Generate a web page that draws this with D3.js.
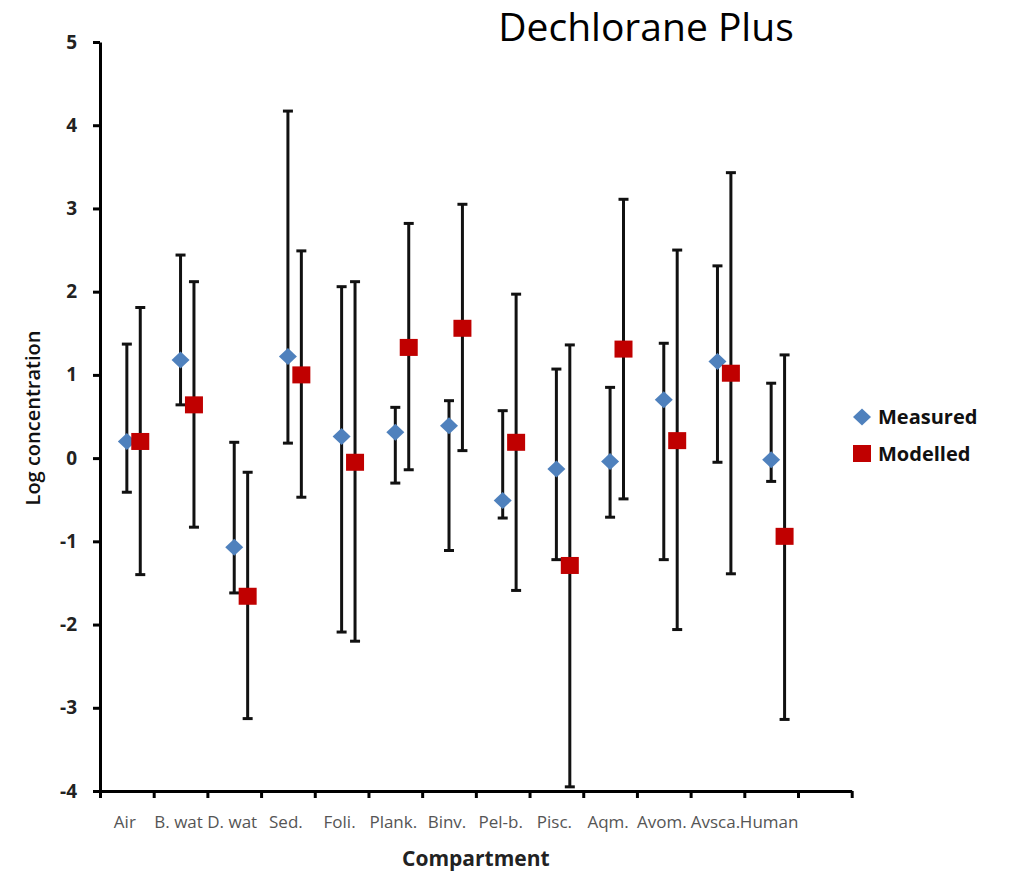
<!DOCTYPE html>
<html>
<head>
<meta charset="utf-8">
<script src="https://cdn.jsdelivr.net/npm/d3@7"></script>
<style>
  body { margin: 0; background: #fff; }
  text { font-family: "Open Sans", sans-serif; }
</style>
</head>
<body>
<svg id="chart" width="1015" height="872"></svg>
<script>
// compartments along the x axis (one empty slot after the last one)
var categories = ['Air', 'B. wat', 'D. wat', 'Sed.', 'Foli.', 'Plank.', 'Binv.',
                  'Pel-b.', 'Pisc.', 'Aqm.', 'Avom.', 'Avsca.', 'Human'];
var measured     = [0.20, 1.18, -1.07, 1.22, 0.26, 0.31, 0.39, -0.51, -0.13, -0.04, 0.70, 1.16, -0.02];
var measuredHigh = [1.37, 2.44, 0.19, 4.17, 2.06, 0.61, 0.69, 0.57, 1.07, 0.85, 1.38, 2.31, 0.90];
var measuredLow  = [-0.41, 0.64, -1.62, 0.18, -2.09, -0.30, -1.11, -0.72, -1.22, -0.71, -1.22, -0.05, -0.28];
var modelled     = [0.20, 0.64, -1.66, 1.00, -0.05, 1.33, 1.56, 0.19, -1.29, 1.31, 0.21, 1.02, -0.94];
var modelledHigh = [1.81, 2.12, -0.17, 2.49, 2.12, 2.82, 3.05, 1.97, 1.36, 3.11, 2.50, 3.43, 1.24];
var modelledLow  = [-1.40, -0.83, -3.13, -0.47, -2.20, -0.14, 0.09, -1.59, -3.95, -0.49, -2.06, -1.39, -3.14];
var yTicks = [-4, -3, -2, -1, 0, 1, 2, 3, 4, 5];
var slots = 14;

var svg = d3.select('#chart');

var x = d3.scaleLinear().domain([0, slots]).range([100, 851.7]);
var y = d3.scaleLinear().domain([-4, 5]).range([791, 42]);

// y axis
var yAxis = svg.append('g')
    .attr('transform', 'translate(' + x(0) + ',0)')
    .call(d3.axisLeft(y).tickValues(yTicks).tickSize(7).tickSizeOuter(0)
        .tickPadding(16).tickFormat(d => String(d)));
yAxis.select('.domain').attr('stroke', '#000').attr('stroke-width', 3);
yAxis.selectAll('.tick line').attr('stroke', '#000').attr('stroke-width', 3);
yAxis.selectAll('.tick text')
    .attr('font-family', '"Open Sans", sans-serif')
    .attr('font-size', 19).attr('font-weight', 700).attr('fill', '#222');

// x axis, ticks between compartments
var xAxis = svg.append('g')
    .attr('transform', 'translate(0,' + y(-4) + ')')
    .call(d3.axisBottom(x).tickValues(d3.range(slots + 1)).tickSize(7).tickSizeOuter(0).tickFormat(''));
xAxis.select('.domain').attr('stroke', '#000').attr('stroke-width', 3);
xAxis.selectAll('.tick line').attr('stroke', '#000').attr('stroke-width', 3);

svg.append('g').selectAll('text').data(categories).enter().append('text')
    .attr('x', (d, i) => x(i + 0.5) - 2)
    .attr('y', y(-4) + 37)
    .attr('text-anchor', 'middle')
    .attr('font-size', 17)
    .attr('fill', '#555')
    .text(d => d);

// error bars
function errorBars(low, high, offset) {
    var g = svg.append('g').attr('stroke', '#111').attr('stroke-width', 3);
    categories.forEach(function(c, i) {
        var cx = x(i + offset);
        g.append('line').attr('x1', cx).attr('x2', cx)
            .attr('y1', y(low[i])).attr('y2', y(high[i]));
        [low[i], high[i]].forEach(function(v) {
            g.append('line').attr('x1', cx - 5).attr('x2', cx + 5)
                .attr('y1', y(v)).attr('y2', y(v));
        });
    });
}
errorBars(measuredLow, measuredHigh, 0.5);
errorBars(modelledLow, modelledHigh, 0.75);

var diamond = 'M0,-8.5L9,0L0,8.5L-9,0Z';

svg.append('g').selectAll('path').data(measured).enter().append('path')
    .attr('d', diamond)
    .attr('fill', '#4F81BD')
    .attr('transform', (d, i) => 'translate(' + x(i + 0.5) + ',' + y(d) + ')');

svg.append('g').selectAll('rect').data(modelled).enter().append('rect')
    .attr('x', (d, i) => x(i + 0.75) - 9)
    .attr('y', d => y(d) - 8.5)
    .attr('width', 18).attr('height', 17)
    .attr('fill', '#C00000');

// legend
var legend = svg.append('g').attr('transform', 'translate(862,0)');
legend.append('path').attr('d', diamond).attr('fill', '#4F81BD')
    .attr('transform', 'translate(0,417)');
legend.append('text').attr('x', 16).attr('y', 424)
    .attr('font-size', 20).attr('font-weight', 700).attr('fill', '#111').text('Measured');
legend.append('rect').attr('x', -9).attr('y', 445).attr('width', 18).attr('height', 17)
    .attr('fill', '#C00000');
legend.append('text').attr('x', 16).attr('y', 461)
    .attr('font-size', 20).attr('font-weight', 700).attr('fill', '#111').text('Modelled');

// titles
svg.append('text').attr('x', 646).attr('y', 41).attr('text-anchor', 'middle')
    .attr('font-size', 39).attr('fill', '#000').text('Dechlorane Plus');

svg.append('text')
    .attr('transform', 'translate(40,418) rotate(-90)')
    .attr('text-anchor', 'middle')
    .attr('font-size', 20).attr('font-weight', 600).attr('fill', '#111')
    .text('Log concentration');

svg.append('text').attr('x', (x(0) + x(slots)) / 2).attr('y', 866)
    .attr('text-anchor', 'middle')
    .attr('font-size', 21).attr('font-weight', 700).attr('fill', '#222')
    .text('Compartment');
</script>
</body>
</html>
